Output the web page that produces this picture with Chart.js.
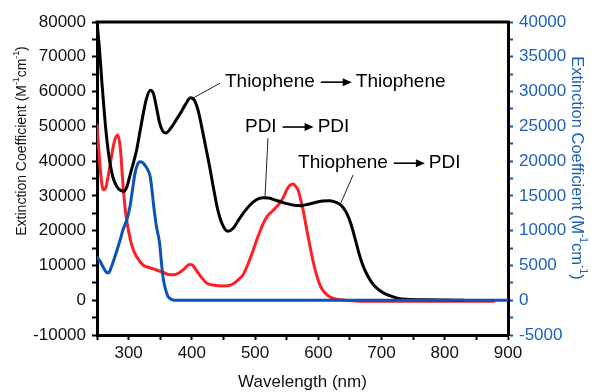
<!DOCTYPE html>
<html>
<head>
<meta charset="utf-8">
<script src="https://cdn.jsdelivr.net/npm/chart.js@4"></script>
<style>
  html, body { margin: 0; padding: 0; background: #fff; }
  #wrap { width: 591px; height: 392px; }
</style>
</head>
<body>
<div id="wrap"><canvas id="absChart" width="591" height="392"></canvas></div>
<script>
// Spectra (wavelength in nm, extinction in M^-1 cm^-1)
// black: Thiophene -> Thiophene (left axis)
var thioNm  = [250, 254, 258, 262, 266, 270, 275, 281, 287, 293, 298, 303, 308, 313, 318, 323, 328, 334, 339, 344, 349, 354, 359, 366, 374, 382, 390, 398, 404, 410, 416, 422, 428, 434, 441, 449, 457, 465, 473, 482, 492, 502, 512, 522, 532, 542, 552, 562, 572, 582, 595, 607, 617, 626, 633, 640, 646, 652, 658, 664, 670, 677, 685, 693, 703, 713, 725, 740, 770, 800, 830];
var thioVal = [80000, 72000, 62000, 53000, 45500, 40000, 35500, 32800, 31600, 31300, 33000, 36500, 39800, 43500, 48500, 53500, 57800, 60400, 59500, 55500, 51000, 48600, 48100, 49300, 51500, 53800, 56300, 58200, 57500, 54500, 49500, 44000, 38500, 32500, 26000, 21500, 19800, 20600, 22800, 25200, 27400, 28900, 29500, 29400, 28800, 28200, 27700, 27300, 27200, 27500, 28100, 28500, 28600, 28300, 27700, 26500, 24600, 21700, 17800, 13700, 10300, 7400, 5000, 3400, 2100, 1300, 600, 250, 100, 40, 0];

// red: PDI -> PDI (left axis)
var pdiNm  = [250, 253, 256, 260, 264, 268, 273, 278, 283, 287, 291, 295, 300, 306, 313, 323, 334, 344, 356, 365, 372, 380, 388, 396, 401, 407, 415, 424, 435, 450, 463, 473, 481, 489, 497, 505, 513, 520, 526, 533, 539, 545, 550, 555, 560, 564, 568, 572, 576, 581, 587, 592, 598, 604, 611, 618, 624, 635, 660, 700, 750, 800, 850, 878];
var pdiVal = [50400, 43000, 36000, 31800, 32500, 36000, 41500, 46000, 47500, 43500, 33500, 25500, 19800, 15200, 12400, 10100, 9300, 8700, 7900, 7300, 7300, 7900, 9000, 10300, 10100, 8600, 6600, 4900, 4300, 4100, 4500, 5800, 7300, 10500, 14400, 18500, 22100, 24300, 25400, 26700, 27900, 29700, 31700, 33000, 33400, 32800, 31700, 29000, 25900, 21000, 15400, 11000, 6800, 3800, 2000, 1000, 550, 150, -200, -300, -300, -300, -300, -300];

// blue: Thiophene -> PDI (right axis)
var tpNm  = [250, 255, 260, 265, 268, 272, 277, 282, 287, 291, 294, 298, 302, 306, 310, 314, 318, 322, 326, 330, 334, 337, 340, 344, 349, 352, 355, 358, 362, 366, 372, 450, 550, 650, 750, 900];
var tpVal = [6200, 5600, 4700, 4000, 3900, 4600, 5900, 7300, 8800, 10100, 10800, 11800, 13400, 15800, 18200, 19500, 19900, 19800, 19400, 18800, 17800, 15800, 13300, 10600, 8200, 5300, 3000, 1700, 600, 200, 0, 0, 0, 0, 0, 0];

var leftTicks  = [-10000, 0, 10000, 20000, 30000, 40000, 50000, 60000, 70000, 80000];
var rightTicks = [-5000, 0, 5000, 10000, 15000, 20000, 25000, 30000, 35000, 40000];
var xTicks     = [300, 400, 500, 600, 700, 800, 900];

var FONT = '"Liberation Sans", Arial, Helvetica, sans-serif';
var BLUE_LINE = '#0b53b4';
var BLUE_TEXT = '#1f5fb8';
var RED = '#ff1f26';

function pts(xs, ys) {
    return xs.map(function(x, i) { return { x: x, y: ys[i] }; });
}

// draws text pieces along a line, pieces flagged true are superscript
function richText(ctx, parts, size) {
    var w = 0;
    parts.forEach(function(p) {
        ctx.font = (p[1] ? size * 0.62 : size) + 'px ' + FONT;
        w += ctx.measureText(p[0]).width;
    });
    var x = -w / 2;
    ctx.textAlign = 'left';
    ctx.textBaseline = 'middle';
    parts.forEach(function(p) {
        ctx.font = (p[1] ? size * 0.62 : size) + 'px ' + FONT;
        ctx.fillText(p[0], x, p[1] ? -size * 0.38 : 0);
        x += ctx.measureText(p[0]).width;
    });
}

function arrowRow(ctx, x, y, left, right) {
    ctx.font = '19px ' + FONT;
    ctx.textAlign = 'left';
    ctx.textBaseline = 'middle';
    ctx.fillStyle = '#000';
    ctx.fillText(left, x, y);
    var ax = x + ctx.measureText(left).width + 6;
    var len = 31;
    ctx.lineWidth = 1.6;
    ctx.strokeStyle = '#000';
    ctx.beginPath();
    ctx.moveTo(ax, y);
    ctx.lineTo(ax + len - 6, y);
    ctx.stroke();
    ctx.beginPath();
    ctx.moveTo(ax + len, y);
    ctx.lineTo(ax + len - 9, y - 4);
    ctx.lineTo(ax + len - 9, y + 4);
    ctx.closePath();
    ctx.fill();
    ctx.fillText(right, ax + len + 4, y);
}

var frameAndLabels = {
    id: 'frameAndLabels',
    afterDraw: function(chart) {
        var ctx = chart.ctx, a = chart.chartArea;
        var sx = chart.scales.x, sy = chart.scales.y;
        ctx.save();

        // top edge of the frame
        ctx.strokeStyle = '#000';
        ctx.lineWidth = 3;
        ctx.beginPath();
        ctx.moveTo(a.left - 1.5, a.top);
        ctx.lineTo(a.right + 1.5, a.top);
        ctx.stroke();

        // axis titles
        ctx.fillStyle = '#111';
        ctx.save();
        ctx.translate(22, 141);
        ctx.rotate(-Math.PI / 2);
        richText(ctx, [['Extinction Coefficient (M', false], ['-1', true], ['cm', false], ['-1', true], [')', false]], 14);
        ctx.restore();

        ctx.fillStyle = BLUE_TEXT;
        ctx.save();
        ctx.translate(577, 168);
        ctx.rotate(Math.PI / 2);
        richText(ctx, [['Extinction Coefficient (M', false], ['-1', true], ['cm', false], ['-1', true], [')', false]], 16.5);
        ctx.restore();

        ctx.fillStyle = '#111';
        ctx.font = '17px ' + FONT;
        ctx.textAlign = 'center';
        ctx.textBaseline = 'middle';
        ctx.fillText('Wavelength (nm)', (a.left + a.right) / 2, 382);

        // leader lines to the curves
        ctx.strokeStyle = '#222';
        ctx.lineWidth = 1;
        [[401.8, 58100, 444.5, 62400], [515.7, 29700, 520.4, 46600], [634.3, 27400, 654.9, 36000]].forEach(function(l) {
            ctx.beginPath();
            ctx.moveTo(sx.getPixelForValue(l[0]), sy.getPixelForValue(l[1]));
            ctx.lineTo(sx.getPixelForValue(l[2]), sy.getPixelForValue(l[3]));
            ctx.stroke();
        });

        // annotation texts
        arrowRow(ctx, sx.getPixelForValue(452.4), sy.getPixelForValue(62700), 'Thiophene', 'Thiophene');
        arrowRow(ctx, sx.getPixelForValue(484), sy.getPixelForValue(49800), 'PDI', 'PDI');
        arrowRow(ctx, sx.getPixelForValue(568), sy.getPixelForValue(39400), 'Thiophene', 'PDI');

        ctx.restore();
    }
};

document.addEventListener('DOMContentLoaded', function() {
    var ctx = document.getElementById('absChart').getContext('2d');

    new Chart(ctx, {
        type: 'line',
        data: {
            datasets: [{
                label: 'Thiophene \u2192 PDI',
                data: pts(tpNm, tpVal),
                yAxisID: 'y2',
                borderColor: BLUE_LINE,
                borderWidth: 3
            }, {
                label: 'Thiophene \u2192 Thiophene',
                data: pts(thioNm, thioVal),
                yAxisID: 'y',
                borderColor: '#000',
                borderWidth: 3
            }, {
                label: 'PDI \u2192 PDI',
                data: pts(pdiNm, pdiVal),
                yAxisID: 'y',
                borderColor: RED,
                borderWidth: 3
            }]
        },
        options: {
            responsive: false,
            animation: false,
            layout: { padding: { top: 22 } },
            elements: {
                point: { radius: 0 },
                line: { cubicInterpolationMode: 'monotone', fill: false, borderJoinStyle: 'round', borderCapStyle: 'round' }
            },
            plugins: {
                legend: { display: false },
                tooltip: { enabled: false }
            },
            scales: {
                x: {
                    type: 'linear',
                    min: 250,
                    max: 900,
                    ticks: {
                        stepSize: 50,
                        autoSkip: false,
                        maxRotation: 0,
                        padding: 3,
                        color: '#111',
                        font: { size: 17, family: FONT },
                        callback: function(v) { return xTicks.indexOf(v) >= 0 ? String(v) : ''; }
                    },
                    grid: { drawOnChartArea: false, tickLength: 5, tickWidth: 2, tickColor: '#000' },
                    border: { width: 3, color: '#000' },
                    afterFit: function(s) { s.height = 57; }
                },
                y: {
                    position: 'left',
                    min: -10000,
                    max: 80000,
                    ticks: {
                        stepSize: 5000,
                        autoSkip: false,
                        padding: 6,
                        color: '#111',
                        font: { size: 17, family: FONT },
                        callback: function(v) { return leftTicks.indexOf(v) >= 0 ? String(v) : ''; }
                    },
                    grid: { drawOnChartArea: false, tickLength: 5, tickWidth: 2, tickColor: '#000' },
                    border: { width: 3, color: '#000' },
                    afterFit: function(s) { s.width = 97; }
                },
                y2: {
                    position: 'right',
                    min: -5000,
                    max: 40000,
                    ticks: {
                        stepSize: 2500,
                        autoSkip: false,
                        padding: 6,
                        color: BLUE_TEXT,
                        font: { size: 17, family: FONT },
                        callback: function(v) { return rightTicks.indexOf(v) >= 0 ? String(v) : ''; }
                    },
                    grid: { drawOnChartArea: false, tickLength: 5, tickWidth: 2, tickColor: BLUE_LINE },
                    border: { width: 3, color: '#000' },
                    afterFit: function(s) { s.width = 83; }
                }
            }
        },
        plugins: [frameAndLabels]
    });
});
</script>
</body>
</html>
